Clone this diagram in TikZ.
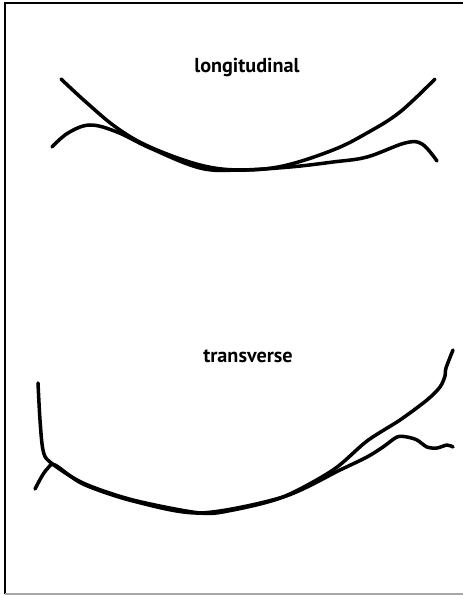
\documentclass[tikz,border=0pt]{standalone}
\usepackage{fontspec}
\newfontfamily\labelfont{PT Sans}
\usepackage{tikz}

\begin{document}
\begin{tikzpicture}[
  x=0.02cm, y=-0.02cm,
  curve/.style={line width=2pt, line cap=round, line join=round},
  frame/.style={line width=0.9pt},
  title/.style={font=\labelfont\bfseries\fontsize{11.5}{13}\selectfont},
]
  \useasboundingbox (0,0) rectangle (463,595);
  % frame
  \draw[frame] (5,594) -- (5,3) -- (463,3);
  \draw[frame, gray!70] (5,594) -- (463,594);

  % longitudinal
  \node[title] (longi) at (247,67) {longitudinal};
  \draw[curve] plot[smooth, tension=0.6] coordinates {
    (61,79) (87,103) (117,128) (150,147) (200,165) (240,170)
    (283,166) (333,150) (367,133) (400,112) (435,79)};
  \draw[curve] plot[smooth, tension=0.6] coordinates {
    (52,147) (68,133) (90,125) (117,132) (150,148) (200,168)
    (240,170) (290,167) (333,162) (367,157) (405,143) (422,144) (437,161)};

  % transverse
  \node[title] (trans) at (248,356) {transverse};
  \draw[curve] plot[smooth, tension=0.5] coordinates {
    (38,383) (40,420) (43,450) (50,462) (83,483) (133,500) (200,513)
    (233,510) (283,497) (333,470) (367,441) (400,420) (427,400)
    (440,387) (445,376) (446,368) (453,350)};
  \draw[curve] plot[smooth, tension=0.5] coordinates {
    (35,489) (42,476) (48,468) (55,465) (83,484) (133,501) (200,513)
    (283,497) (340,470) (367,457) (383,447) (397,437) (407,437)
    (417,440) (427,447) (437,448) (447,445) (453,447)};
\end{tikzpicture}
\end{document}
